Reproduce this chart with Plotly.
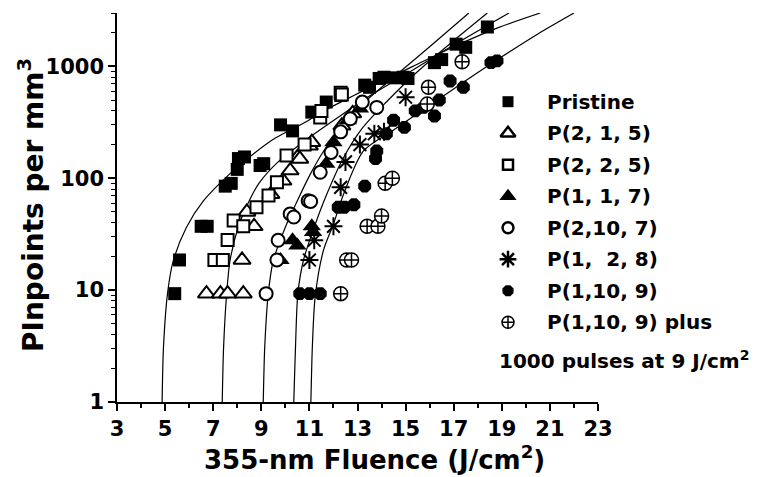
import plotly.graph_objects as go
import math

# ---------------- data ----------------
series_names = ["Pristine", "P(2, 1, 5)", "P(2, 2, 5)", "P(1, 1, 7)",
                "P(2,10, 7)", "P(1, &nbsp;2, 8)", "P(1,10, 9)", "P(1,10, 9) plus"]

pristine_F = [5.4, 5.6, 6.5, 6.75, 7.5, 7.75, 8.0, 8.05, 8.3, 8.95, 9.1, 9.8, 10.3, 11.1, 11.7,
              12.3, 13.3, 13.5, 13.9, 14.1, 14.6, 14.9, 15.1, 16.2, 16.5, 17.1, 17.5, 18.4]
pristine_N = [9.3, 18.6, 37.2, 37.2, 85, 90, 120, 150, 155, 130, 135, 300, 265, 390, 480,
              550, 680, 650, 780, 800, 790, 800, 780, 1080, 1150, 1580, 1480, 2250]

p215_F = [6.72, 7.3, 7.6, 8.25, 8.2, 8.7, 8.4, 9.4, 9.9, 10.2, 10.5, 10.6, 11.0, 11.1, 12.35, 12.8]
p215_N = [9.3, 9.3, 9.3, 9.3, 18.6, 37.2, 50, 72, 95, 117, 154, 149, 195, 210, 295, 380]

p225_F = [7.05, 7.4, 7.6, 7.85, 8.25, 8.8, 9.3, 9.65, 10.05, 10.8, 11.45, 11.5, 12.3, 12.35]
p225_N = [18.6, 18.6, 28, 42, 37.2, 55, 70, 92, 160, 200, 350, 400, 580, 560]

p117_F = [9.8, 10.3, 10.5, 11.1, 11.15, 11.7, 12.0, 12.6, 13.1]
p117_N = [18.6, 27.9, 25, 37.2, 33, 135, 210, 330, 420]

p2107_F = [9.2, 9.65, 9.7, 10.2, 10.35, 10.95, 11.05, 11.45, 11.9, 12.3, 12.7, 13.2, 13.8]
p2107_N = [9.3, 18.6, 27.9, 48, 45, 63, 62, 113, 170, 260, 340, 480, 430]

p128_F = [11.0, 11.2, 12.0, 12.3, 12.5, 13.1, 13.7, 14.1, 15.0]
p128_N = [18.6, 27.9, 37.2, 83, 140, 200, 250, 260, 530]

p1109_F = [10.6, 11.0, 11.45, 12.2, 12.45, 12.85, 13.3, 13.75, 13.8, 14.2, 14.5, 14.95, 15.4,
           15.75, 16.2, 16.4, 16.85, 17.4, 18.55, 18.8]
p1109_N = [9.3, 9.3, 9.3, 55, 55, 58, 85, 150, 175, 250, 330, 285, 400,
           430, 360, 500, 740, 650, 1080, 1120]

p1109plus_F = [12.3, 12.55, 12.75, 13.4, 13.85, 14.0, 14.15, 14.45, 15.9, 15.95, 17.35]
p1109plus_N = [9.3, 18.6, 18.6, 37.2, 37.2, 46, 90, 100, 460, 650, 1100]

# fitted curves
curveA_F = [4.87, 4.875, 4.93, 5.1, 5.33, 5.89, 6.6, 7.7, 8.67, 9.6, 10.75, 11.6, 12.42, 13.25,
            13.95, 15.3, 17.0, 18.8, 20.6]
curveA_N = [0.9, 1, 3, 9.3, 18, 36.5, 63, 110, 165, 230, 310, 400, 494, 607,
            720, 1000, 1500, 2200, 3000]
curveB_F = [7.37, 7.375, 7.43, 7.56, 7.7, 8.04, 8.5, 8.9, 9.7, 11.1, 12.35, 13.6, 15.2, 17.0, 19.3]
curveB_N = [0.9, 1, 3, 9.3, 18.4, 36.5, 63, 90, 140, 240, 370, 560, 900, 1550, 3000]
curveC_F = [9.07, 9.08, 9.14, 9.29, 9.5, 10.0, 10.5, 11.0, 11.6, 12.4, 13.25, 14.5, 16.0, 17.63]
curveC_N = [0.9, 1, 3, 9.3, 18.4, 36.5, 63, 105, 176, 300, 470, 800, 1500, 3000]
curveD_F = [10.34, 10.35, 10.42, 10.52, 10.75, 11.2, 11.7, 12.4, 13.2, 14.2, 15.5, 17.0, 18.4]
curveD_N = [0.9, 1, 3, 9.3, 18.4, 36.5, 70, 150, 280, 480, 900, 1700, 3000]
curveE_F = [11.05, 11.06, 11.12, 11.24, 11.58, 12.0, 12.42, 13.25, 14.5, 16.2, 17.4, 18.9, 20.5, 22.0]
curveE_N = [0.9, 1, 3, 8.7, 22.5, 39, 72, 176, 270, 480, 720, 1180, 1950, 3000]

x_ticks = [3, 5, 7, 9, 11, 13, 15, 17, 19, 21, 23]
y_ticks = [1, 10, 100, 1000]
y_tick_text = ["1", "10", "100", "1000"]
note_text = "1000 pulses at 9 J/cm<sup>2</sup>"

# ---------------- styling ----------------
FONT = "DejaVu Sans"
W, H = 767, 477
L, R, T, B = 117, 169, 13, 75
plot_w = W - L - R
plot_h = H - T - B


def px_to_paper_x(px):
    return (px - L) / plot_w


def px_to_paper_y(py):
    return (H - B - py) / plot_h


styles = [
    dict(symbol="square", size=13, color="black", line=dict(width=0)),
    dict(symbol="triangle-up", size=15, color="white", line=dict(color="black", width=2)),
    dict(symbol="square", size=12, color="white", line=dict(color="black", width=2)),
    dict(symbol="triangle-up", size=16, color="black", line=dict(width=0)),
    dict(symbol="circle", size=13, color="white", line=dict(color="black", width=2)),
    dict(symbol="asterisk-open", size=15, color="black", line=dict(color="black", width=2)),
    dict(symbol="octagon", size=14, color="black", line=dict(width=0)),
    dict(symbol="circle-cross", size=14, color="white", line=dict(color="black", width=1.5)),
]
legend_styles = [
    dict(symbol="square", size=11, color="black", line=dict(width=0)),
    dict(symbol="triangle-up", size=13, color="white", line=dict(color="black", width=2.5)),
    dict(symbol="square", size=10, color="white", line=dict(color="black", width=2.5)),
    dict(symbol="triangle-up", size=15, color="black", line=dict(width=0)),
    dict(symbol="circle", size=11, color="white", line=dict(color="black", width=2.5)),
    dict(symbol="asterisk-open", size=14, color="black", line=dict(color="black", width=2.5)),
    dict(symbol="octagon", size=12, color="black", line=dict(width=0)),
    dict(symbol="circle-cross", size=12, color="white", line=dict(color="black", width=1.5)),
]

fig = go.Figure()

curves = [(curveA_F, curveA_N), (curveB_F, curveB_N), (curveC_F, curveC_N),
          (curveD_F, curveD_N), (curveE_F, curveE_N)]
for cf, cn in curves:
    fig.add_trace(go.Scatter(x=cf, y=cn, mode="lines",
                             line=dict(color="black", width=1.2, shape="spline", smoothing=0.8),
                             showlegend=False, hoverinfo="skip"))

data = [(pristine_F, pristine_N), (p215_F, p215_N), (p225_F, p225_N), (p117_F, p117_N),
        (p2107_F, p2107_N), (p128_F, p128_N), (p1109_F, p1109_N), (p1109plus_F, p1109plus_N)]
for (xs, ys), st, name in zip(data, styles, series_names):
    fig.add_trace(go.Scatter(x=xs, y=ys, mode="markers", marker=st, name=name,
                             showlegend=False, cliponaxis=False))

# manual legend on an overlay axis in paper-like coordinates
leg_marker_x = px_to_paper_x(508)
leg_text_x = px_to_paper_x(545)
row0, row_gap = 101.7, 31.5
for i, (st, name) in enumerate(zip(legend_styles, series_names)):
    yy = px_to_paper_y(row0 + i * row_gap)
    fig.add_trace(go.Scatter(x=[leg_marker_x], y=[yy], mode="markers", marker=st,
                             xaxis="x2", yaxis="y2", showlegend=False, cliponaxis=False,
                             hoverinfo="skip"))
    fig.add_annotation(x=leg_text_x, y=yy, xref="paper", yref="paper", text=name,
                       showarrow=False, xanchor="left", yanchor="middle",
                       font=dict(family=FONT, size=20, color="black", weight="bold"))

fig.add_annotation(x=px_to_paper_x(497), y=px_to_paper_y(360), xref="paper", yref="paper",
                   text=note_text, showarrow=False, xanchor="left", yanchor="middle",
                   font=dict(family=FONT, size=20, color="black", weight="bold"))

# axis titles
fig.add_annotation(x=px_to_paper_x(374), y=px_to_paper_y(458), xref="paper", yref="paper",
                   text="355-nm Fluence (J/cm<sup>2</sup>)", showarrow=False,
                   xanchor="center", yanchor="middle",
                   font=dict(family=FONT, size=26, color="black", weight="bold"))
fig.add_annotation(x=px_to_paper_x(31), y=px_to_paper_y(205), xref="paper", yref="paper",
                   text="PInpoints per mm<sup>3</sup>", showarrow=False, textangle=-90,
                   xanchor="center", yanchor="middle",
                   font=dict(family=FONT, size=28, color="black", weight="bold"))

tickfont = dict(family=FONT, size=21, color="black", weight="bold")
fig.update_layout(
    width=W, height=H,
    margin=dict(l=L, r=R, t=T, b=B, pad=0),
    paper_bgcolor="white", plot_bgcolor="white",
    showlegend=False,
    xaxis=dict(range=[3, 23], tickvals=x_ticks, ticks="outside", ticklen=7, tickwidth=1.5,
               tickcolor="black", showline=True, linecolor="black", linewidth=1.5,
               showgrid=False, zeroline=False, tickfont=tickfont,
               minor=dict(dtick=1, ticks="outside", ticklen=4, tickwidth=1.5,
                          tickcolor="black", showgrid=False)),
    yaxis=dict(type="log", range=[0, math.log10(3000)], tickvals=y_ticks, ticktext=y_tick_text,
               ticks="outside", ticklen=7, tickwidth=1.5, tickcolor="black",
               showline=True, linecolor="black", linewidth=1.5, showgrid=False,
               zeroline=False, tickfont=tickfont,
               minor=dict(dtick="D1", ticks="outside", ticklen=4, tickwidth=1.2,
                          tickcolor="black", showgrid=False)),
    xaxis2=dict(overlaying="x", range=[0, 1], visible=False),
    yaxis2=dict(overlaying="y", range=[0, 1], visible=False),
)

fig.write_html("out.html")
